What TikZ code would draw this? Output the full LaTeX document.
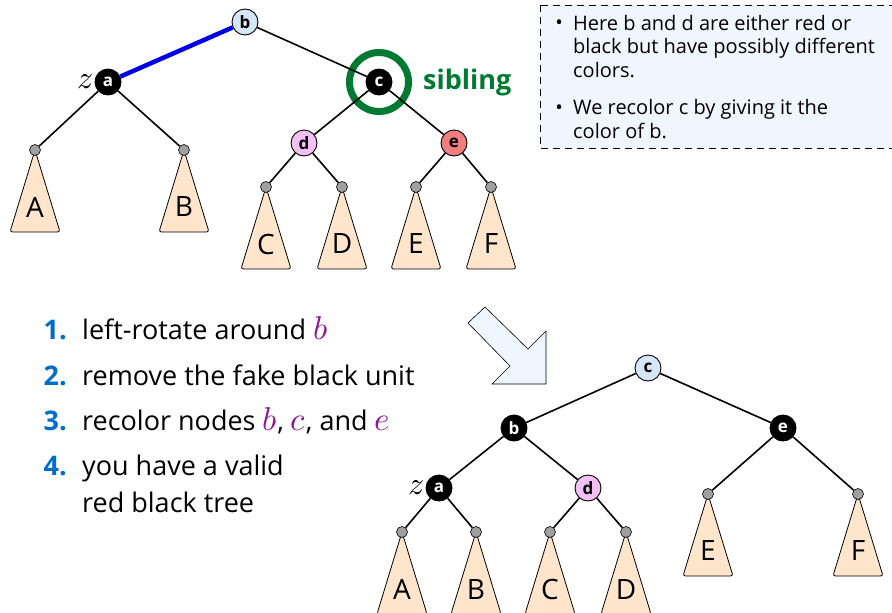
\documentclass[tikz,border=0pt]{standalone}
\usepackage{amsmath}
\usepackage{fontspec}
\usepackage{unicode-math}
\setmainfont{Open Sans}
\setsansfont{Open Sans}
\setmathfont{Latin Modern Math}

\definecolor{nodeblue}{RGB}{215,230,247}
\definecolor{nodepink}{RGB}{243,192,243}
\definecolor{nodered}{RGB}{240,128,128}
\definecolor{leafgray}{RGB}{160,160,160}
\definecolor{treepeach}{RGB}{254,229,204}
\definecolor{paleblue}{RGB}{240,246,255}
\definecolor{sibgreen}{RGB}{0,122,50}
\definecolor{rotblue}{RGB}{0,0,230}
\definecolor{numblue}{RGB}{0,110,200}
\definecolor{varpurple}{RGB}{140,22,145}

\tikzset{
  treenode/.style={circle, draw, line width=0.9pt, minimum size=26pt, inner sep=0pt,
    font=\fontsize{17}{17}\selectfont\bfseries},
  blacknode/.style={treenode, fill=black, text=white},
  rootnode/.style={treenode, fill=nodeblue},
  pinknode/.style={treenode, fill=nodepink},
  rednode/.style={treenode, fill=nodered},
  leaf/.style={circle, draw, line width=0.6pt, fill=leafgray, minimum size=11pt, inner sep=0pt},
  subtree/.style={draw, line width=0.8pt, fill=treepeach, rounded corners=2.5pt},
  treeletter/.style={font=\fontsize{28}{28}\selectfont},
  edge/.style={line width=1.6pt},
  zlabel/.style={font=\fontsize{32}{32}\selectfont, inner sep=1.5pt, anchor=east},
  steptext/.style={font=\fontsize{27}{37}\selectfont, align=left, inner sep=0pt},
  stepnum/.style={font=\fontsize{27}{27}\selectfont\bfseries, text=numblue, inner sep=0pt},
  notetext/.style={font=\fontsize{20}{23.5}\selectfont, align=left, inner sep=0pt},
}

% subtree hanging below a leaf
\newcommand{\subtree}[2]{%
  \draw[subtree] (#1) -- ++(-25,82) -- ++(50,0) -- cycle;
  \path (#1) ++(0,57) node[treeletter] (#1-text) {#2};
}
\newcommand{\var}[1]{{\fontsize{33}{33}\selectfont\textcolor{varpurple}{$#1$}}}

\begin{document}
\begin{tikzpicture}[x=1pt, y=-1pt]
  \useasboundingbox (0,0) rectangle (892,613);

  % note box (last line of each item is the base)
  \draw[dashed, dash pattern=on 7pt off 5pt, line width=0.9pt, fill=paleblue] (540,5) rectangle (905,148);
  \node[notetext, anchor=base west] (note1) at (573,77) {Here b and d are either red or\\black but have possibly different\\colors.};
  \node[notetext, anchor=base east] (bul1) at (563,30) {\textbullet};
  \node[notetext, anchor=base west] (note2) at (573,138) {We recolor c by giving it the\\color of b.};
  \node[notetext, anchor=base east] (bul2) at (563,114.5) {\textbullet};

  % top tree: subtrees
  \coordinate (tA) at (35,150);
  \coordinate (tB) at (184,150);
  \coordinate (tC) at (266,187);
  \coordinate (tD) at (342,187);
  \coordinate (tE) at (416,187);
  \coordinate (tF) at (491,187);
  \foreach \t/\l in {tA/A, tB/B, tC/C, tD/D, tE/E, tF/F}
    \subtree{\t}{\l};

  % top tree: nodes
  \node[rootnode] (tb) at (245,22) {b};
  \node[blacknode] (ta) at (108,82) {a};
  \node[zlabel] (tz) at (ta.west) {$z$};
  \node[circle, draw=sibgreen, line width=7pt, minimum size=59pt] (ring) at (379,82) {};
  \node[blacknode] (tc) at (379,82) {c};
  \node[font=\fontsize{27}{27}\selectfont\bfseries, text=sibgreen, anchor=west, inner sep=0pt] (sib) at ([xshift=11pt]ring.east) {sibling};
  \node[pinknode] (td) at (304,143) {d};
  \node[rednode] (te) at (454,143) {e};
  \foreach \t in {tA, tB, tC, tD, tE, tF}
    \node[leaf] (\t-leaf) at (\t) {};

  % top tree: edges
  \draw[line width=4.5pt, rotblue] (tb) -- (ta);
  \draw[edge] (tb) -- (tc);
  \draw[edge] (ta) -- (tA-leaf);
  \draw[edge] (ta) -- (tB-leaf);
  \draw[edge] (tc) -- (td);
  \draw[edge] (tc) -- (te);
  \draw[edge] (td) -- (tC-leaf);
  \draw[edge] (td) -- (tD-leaf);
  \draw[edge] (te) -- (tE-leaf);
  \draw[edge] (te) -- (tF-leaf);

  % steps
  \node[stepnum, anchor=base east] (n1) at (67,339) {1.};
  \node[steptext, anchor=base west] (s1) at (82,339) {left-rotate around \var{b}};
  \node[stepnum, anchor=base east] (n2) at (67,385) {2.};
  \node[steptext, anchor=base west] (s2) at (82,385) {remove the fake black unit};
  \node[stepnum, anchor=base east] (n3) at (67,430) {3.};
  \node[steptext, anchor=base west] (s3) at (82,430) {recolor nodes \var{b}, \var{c}, and \var{e}};
  \node[stepnum, anchor=base east] (n4) at (67,475) {4.};
  \node[steptext, anchor=base west] (s4) at (82,512) {you have a valid\\red black tree};

  % big arrow
  \draw[line width=0.6pt, fill=paleblue] (485,307) -- (468,323) -- (510,366) -- (492,384)
    -- (546,384) -- (546,331) -- (528,349) -- cycle;

  % bottom tree: subtrees
  \coordinate (bA) at (402,532);
  \coordinate (bB) at (476,532);
  \coordinate (bC) at (550,532);
  \coordinate (bD) at (626,532);
  \coordinate (bE) at (708,494);
  \coordinate (bF) at (858,494);
  \foreach \t/\l in {bA/A, bB/B, bC/C, bD/D, bE/E, bF/F}
    \subtree{\t}{\l};

  % bottom tree: nodes
  \node[rootnode] (bc) at (648,368) {c};
  \node[blacknode] (bb) at (514,428) {b};
  \node[blacknode] (be) at (783,428) {e};
  \node[blacknode] (ba) at (439,488) {a};
  \node[zlabel] (bz) at (ba.west) {$z$};
  \node[pinknode] (bd) at (588,488) {d};
  \foreach \t in {bA, bB, bC, bD, bE, bF}
    \node[leaf] (\t-leaf) at (\t) {};

  % bottom tree: edges
  \draw[edge] (bc) -- (bb);
  \draw[edge] (bc) -- (be);
  \draw[edge] (bb) -- (ba);
  \draw[edge] (bb) -- (bd);
  \draw[edge] (ba) -- (bA-leaf);
  \draw[edge] (ba) -- (bB-leaf);
  \draw[edge] (bd) -- (bC-leaf);
  \draw[edge] (bd) -- (bD-leaf);
  \draw[edge] (be) -- (bE-leaf);
  \draw[edge] (be) -- (bF-leaf);
\end{tikzpicture}
\end{document}
